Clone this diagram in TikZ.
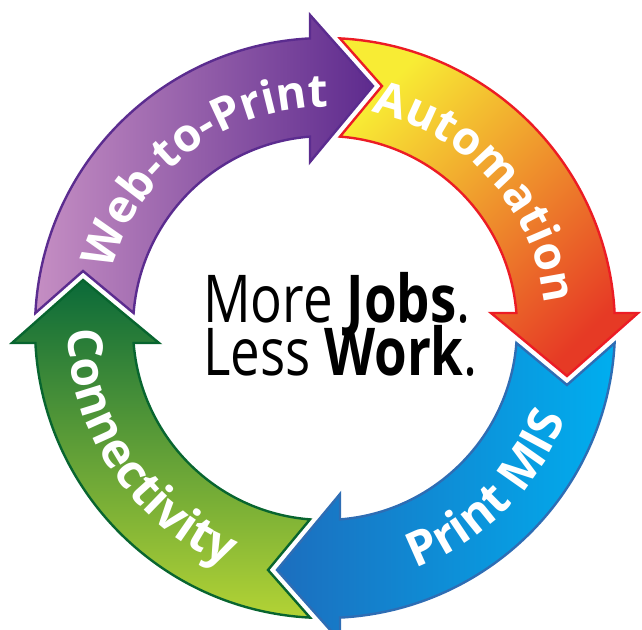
\documentclass[tikz,border=0pt]{standalone}
\usepackage{fontspec}
\setmainfont{Open Sans}
\newfontfamily\ctrfont[FakeStretch=0.8]{Open Sans}
\usetikzlibrary{decorations.text}
\definecolor{pl}{HTML}{C58EC3}
\definecolor{pd}{HTML}{5E2B8E}
\definecolor{pline}{HTML}{5B2C8F}
\definecolor{oy}{HTML}{F8EC34}
\definecolor{oo}{HTML}{F0982E}
\definecolor{orr}{HTML}{E63A25}
\definecolor{oline}{HTML}{EC1C24}
\definecolor{bl}{HTML}{00AEEF}
\definecolor{bd}{HTML}{1C6EBE}
\definecolor{bline}{HTML}{2E6DB4}
\definecolor{gd}{HTML}{0B6A39}
\definecolor{gl}{HTML}{B3D335}
\definecolor{gline}{HTML}{08652F}
\newcommand\lblfont{\bfseries\fontsize{46}{46}\selectfont}
\newcommand\lblfontb{\bfseries\fontsize{48}{48}\selectfont}
\tikzset{
  arwp/.style={insert path={
    ({177.04+#1}:290pt) arc[start angle={177.04+#1}, end angle={92.96+#1}, radius=290pt]
    -- ({92.74+#1}:313.4pt) -- ({78.78+#1}:246.7pt) -- ({95.16+#1}:166.7pt)
    -- ({94.48+#1}:192pt) arc[start angle={94.48+#1}, end angle={175.52+#1}, radius=192pt]
    -- ({166.75+#1}:248.6pt) -- cycle}},
  arwline/.style={line width=2.4pt, line join=miter},
  lbl/.style={decorate, decoration={text along path, text align=center, text color=white, text={|\lblfont|#1}}},
  lblb/.style={decorate, decoration={text along path, text align=center, text color=white, text={|\lblfontb|#1}}}
}
\begin{document}
\begin{tikzpicture}[x=1pt,y=1pt]
\useasboundingbox (-325pt,-301pt) rectangle (317pt,328pt);
% arrows
\shadedraw[arwline, draw=pline, left color=pl, right color=pd, arwp=0];
\shadedraw[arwline, draw=oline, top color=oy, middle color=oo, bottom color=orr, shading angle=45, arwp=-90];
\shadedraw[arwline, draw=bline, left color=bd, right color=bl, arwp=-180];
\shadedraw[arwline, draw=gline, top color=gd, bottom color=gl, arwp=-270];
% labels
\path[lbl=Web-to-Print] (180:221pt) arc[start angle=180, end angle=74, radius=221pt];
\path[lbl=Automation] (95:221pt) arc[start angle=95, end angle=-11, radius=221pt];
\path[lblb=Print MIS] (-100:257pt) arc[start angle=-100, end angle=10, radius=257pt];
\path[lblb=Connectivity] (159:257pt) arc[start angle=159, end angle=269, radius=257pt];
% centre text
\node[anchor=base west, inner sep=0pt, font=\ctrfont\fontsize{66}{66}\selectfont] (l1) at (-122pt,6pt) {More \textbf{Jobs}.};
\node[anchor=base west, inner sep=0pt, font=\ctrfont\fontsize{66}{66}\selectfont] (l2) at (-122pt,-47pt) {Less \textbf{Work}.};
\end{tikzpicture}
\end{document}
